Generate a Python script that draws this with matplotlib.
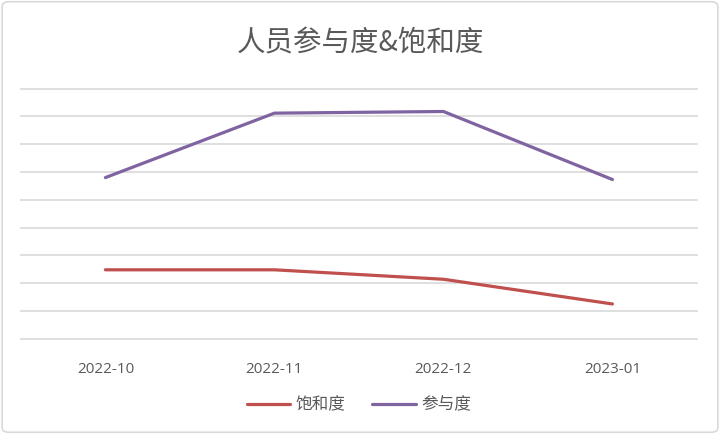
import matplotlib
matplotlib.use("Agg")
import matplotlib.pyplot as plt
from matplotlib.patches import FancyBboxPatch

plt.rcParams['font.family'] = ['Noto Sans CJK SC', 'DejaVu Sans']

categories = ["2022-10", "2022-11", "2022-12", "2023-01"]
saturation = [24.8, 24.8, 21.4, 12.5]     # 饱和度
participation = [58.0, 81.2, 81.8, 57.3]  # 参与度
series_names = ["饱和度", "参与度"]
colors = ["#C0504D", "#8064A2"]

fig = plt.figure(figsize=(7.2, 4.34), dpi=100)
fig.patches.append(FancyBboxPatch((0.003, 0.004), 0.994, 0.992,
                                  boxstyle="round,pad=0,rounding_size=0.01",
                                  transform=fig.transFigure, facecolor="white",
                                  edgecolor="#D9D9D9", linewidth=1.2, zorder=-10))
ax = fig.add_axes([0.029, 0.2196, 0.939, 0.576])
ax.set_facecolor("none")

x = list(range(len(categories)))
ax.plot(x, saturation, color=colors[0], lw=2.3, label=series_names[0], solid_capstyle="round", zorder=3)
ax.plot(x, participation, color=colors[1], lw=2.3, label=series_names[1], solid_capstyle="round", zorder=3)

ax.set_xlim(-0.5, len(categories) - 0.5)
ax.set_ylim(0, 90)
ax.set_yticks(range(0, 91, 10))
ax.yaxis.grid(True, color="#D9D9D9", lw=1.2)
for gl in ax.get_ygridlines():
    gl.set_clip_on(False)
ax.set_axisbelow(True)
ax.tick_params(axis="y", left=False, labelleft=False)
ax.tick_params(axis="x", bottom=False, labelsize=11, labelcolor="#595959", pad=13)
ax.set_xticks(x)
ax.set_xticklabels(categories, family=["Open Sans", "DejaVu Sans"])
for s in ax.spines.values():
    s.set_visible(False)

fig.text(0.5, 0.9, "人员参与度&饱和度", ha="center", va="center", fontsize=20.5, color="#595959")

leg = ax.legend(loc="center", bbox_to_anchor=(0.5, -0.265), ncol=2, frameon=False,
                fontsize=12, handlelength=2.6, handletextpad=0.35, columnspacing=1.6)
for t in leg.get_texts():
    t.set_color("#595959")

fig.savefig("out.png", dpi=100)
